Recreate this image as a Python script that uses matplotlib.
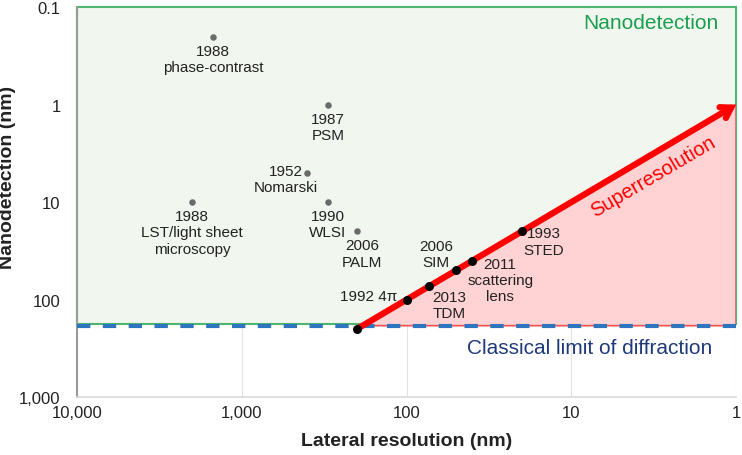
import matplotlib

matplotlib.use("Agg")
import matplotlib.pyplot as plt
from matplotlib.patches import Polygon
from matplotlib.ticker import FuncFormatter, NullLocator

plt.rcParams["font.family"] = ["Liberation Sans", "DejaVu Sans"]

# ---------------------------------------------------------------- data
# techniques off the superresolution line (gray dots)
other_labels = ["1988\nphase-contrast", "1987\nPSM", "1952\nNomarski",
                "1990\nWLSI", "1988\nLST/light sheet\nmicroscopy", "2006\nPALM"]
other_x = [1500, 300, 400, 300, 2000, 200]
other_y = [0.2, 1, 5, 10, 10, 20]

# techniques on the superresolution line (black dots)
line_labels = ["1992 4\u03c0", "2013\nTDM", "2006\nSIM",
               "2011\nscattering\nlens", "1993\nSTED"]
line_x = [100, 73, 50, 40, 20]
line_y = [100, 73, 50, 40, 20]

diffraction_limit = 185      # nm, classical limit
nano_bottom = 180            # lower edge of the nanodetection box
arrow_start = (200, 200)
arrow_end = (1, 1)

x_ticks = [10000, 1000, 100, 10, 1]
y_ticks = [0.1, 1, 10, 100, 1000]

# ---------------------------------------------------------------- styling
GREEN_FILL = "#f1f7ef"
GREEN_EDGE = "#4db56f"
GREEN_TEXT = "#1a9e4f"
RED = "#ff0000"
PINK = "#ffd3d3"
BLUE = "#2e75c0"
NAVY = "#1f3a7a"
GRAY_DOT = "#6a6a6a"
INK = "#222222"

# label placement (offset in pixels, ha, va)
other_pos = [((0, -7), "center", "top"), ((0, -7), "center", "top"),
             ((-22, 9), "center", "top"), ((0, -7), "center", "top"),
             ((0, -7), "center", "top"), ((5, -7), "center", "top")]
line_pos = [((-9, 4), "right", "center"), ((20, -4), "center", "top"),
            ((-20, 1), "center", "bottom"), ((28, 4), "center", "top"),
            ((22, 5), "center", "top")]

fig = plt.figure(figsize=(7.42, 4.56), dpi=100)
ax = fig.add_axes([0.104, 0.127, 0.888, 0.855])
ax.set_xscale("log")
ax.set_yscale("log")
ax.set_xlim(10000, 1)
ax.set_ylim(1000, 0.1)

ax.set_xticks(x_ticks)
ax.set_yticks(y_ticks)
ax.xaxis.set_minor_locator(NullLocator())
ax.yaxis.set_minor_locator(NullLocator())
fmt = FuncFormatter(lambda v, _: f"{v:,.0f}" if v >= 1 else f"{v:g}")
ax.xaxis.set_major_formatter(fmt)
ax.yaxis.set_major_formatter(fmt)
ax.tick_params(axis="both", length=0, labelsize=12, colors=INK)
ax.tick_params(axis="y", pad=12)
ax.tick_params(axis="x", pad=6)
ax.grid(True, color="#e2e2e2", lw=0.8, zorder=0)
ax.set_axisbelow(True)

for side in ("top", "right"):
    ax.spines[side].set_visible(False)
ax.spines["left"].set_color("#9a9a9a")
ax.spines["left"].set_linewidth(1.5)
ax.spines["bottom"].set_color("#d9d9d9")
ax.spines["bottom"].set_linewidth(1.2)

# nanodetection box
ax.axhspan(0.1, nano_bottom, facecolor=GREEN_FILL, edgecolor=GREEN_EDGE,
           lw=1.5, zorder=1, clip_on=False)

# superresolution triangle
tri = Polygon([arrow_start, arrow_end, (arrow_end[0], diffraction_limit),
               (arrow_start[0], diffraction_limit)],
              closed=True, facecolor=PINK, edgecolor="#f05050", lw=1.2,
              zorder=2)
ax.add_patch(tri)

# classical limit of diffraction
ax.axhline(diffraction_limit, color=BLUE, lw=3, ls=(0, (3.2, 3)), zorder=3)

# arrow
ax.annotate("", xy=arrow_end, xytext=arrow_start,
            arrowprops=dict(arrowstyle="->,head_length=0.7,head_width=0.45",
                            color=RED, lw=4.5, shrinkA=0, shrinkB=0,
                            joinstyle="miter", capstyle="round"),
            zorder=4, annotation_clip=False)

# points
ax.scatter(other_x, other_y, s=22, color=GRAY_DOT, zorder=5, lw=0)
ax.scatter(line_x, line_y, s=42, color="black", zorder=5, lw=0)
ax.scatter([arrow_start[0]], [arrow_start[1]], s=42, color="black",
           zorder=5, lw=0)

for lab, x, y, (off, ha, va) in zip(other_labels, other_x, other_y, other_pos):
    ax.annotate(lab, (x, y), xytext=off, textcoords="offset pixels",
                ha=ha, va=va, fontsize=11, color=INK, linespacing=1.2,
                multialignment="center", zorder=6)
for lab, x, y, (off, ha, va) in zip(line_labels, line_x, line_y, line_pos):
    ax.annotate(lab, (x, y), xytext=off, textcoords="offset pixels",
                ha=ha, va=va, fontsize=11, color=INK, linespacing=1.2,
                multialignment="center", zorder=6)

# region labels
ax.text(1.28, 0.145, "Nanodetection", color=GREEN_TEXT, fontsize=15,
        ha="right", va="center", zorder=6)
ax.text(3.2, 5.4, "Superresolution", color=RED, fontsize=14.5, rotation=30.5,
        ha="center", va="center", rotation_mode="anchor", zorder=6)
ax.text(7.7, 307, "Classical limit of diffraction", color=NAVY,
        fontsize=15, ha="center", va="center", zorder=6)

ax.set_xlabel("Lateral resolution (nm)", fontsize=14, fontweight="bold",
              color=INK, labelpad=8)
ax.set_ylabel("Nanodetection (nm)", fontsize=14, fontweight="bold",
              color=INK)
ax.yaxis.set_label_coords(-0.093, 0.567)

fig.savefig("out.png", dpi=100)
